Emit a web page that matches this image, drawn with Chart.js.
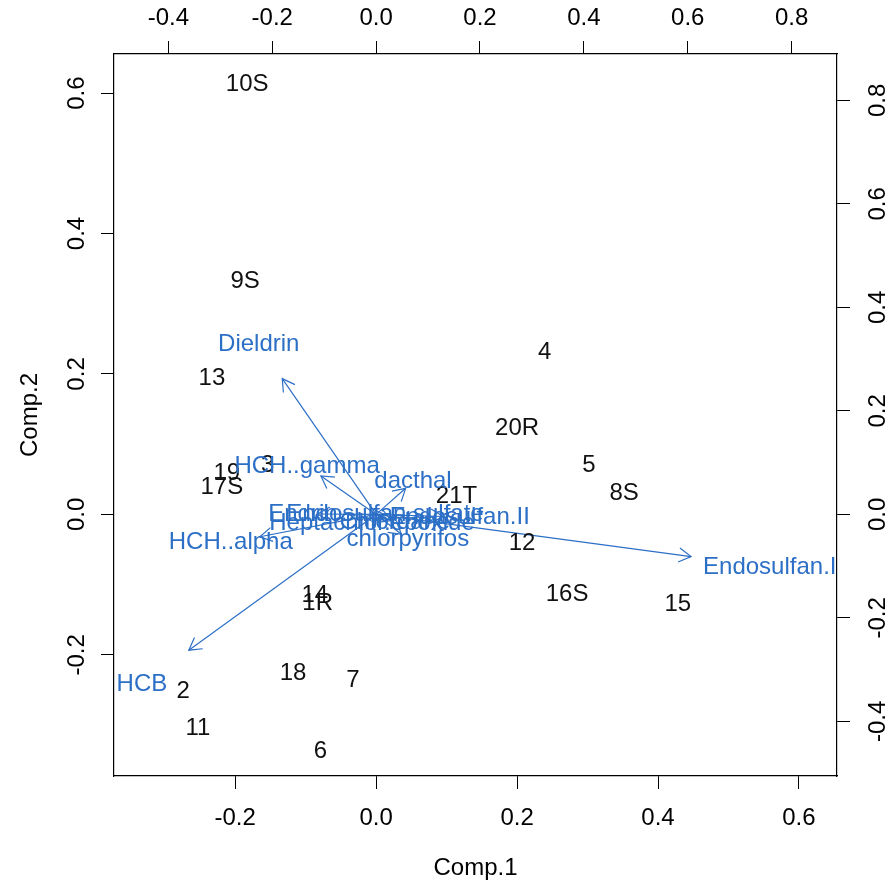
<!DOCTYPE html>
<html>
<head>
<meta charset="utf-8">
<script src="https://cdn.jsdelivr.net/npm/chart.js@4/dist/chart.umd.min.js"></script>
<style>
  html, body { margin: 0; padding: 0; background: #ffffff; }
  #wrap { width: 895px; height: 886px; }
</style>
</head>
<body>
<div id="wrap"><canvas id="biplot" width="895" height="886"></canvas></div>
<script>
// Sample scores on the first two principal components
const sampleIds   = ['10S', '9S', '13', '4', '20R', '3', '19', '17S', '5', '8S', '21T',
                     '12', '16S', '15', '14', '1R', '18', '7', '2', '11', '6'];
const comp1Scores = [-0.183, -0.186, -0.233, 0.239, 0.200, -0.154, -0.212, -0.219, 0.302, 0.352, 0.114,
                     0.207, 0.271, 0.428, -0.087, -0.083, -0.118, -0.033, -0.274, -0.253, -0.079];
const comp2Scores = [0.613, 0.332, 0.193, 0.231, 0.123, 0.070, 0.059, 0.039, 0.070, 0.030, 0.025,
                     -0.041, -0.114, -0.128, -0.115, -0.127, -0.227, -0.236, -0.252, -0.305, -0.337];

// Variable loadings (drawn on the top / right axes)
const variableNames  = ['Dieldrin', 'HCH..gamma', 'dacthal', 'HCH..alpha', 'Endosulfan.I', 'HCB',
                        'chlorpyrifos', 'Endosulfan.II', 'Endrin', 'Endosulfan.sulfate',
                        'Heptachlor.epoxide', 'Chlordane'];
const comp1Loadings  = [-0.226, -0.133, 0.071, -0.280, 0.758, -0.451,
                        0.061, 0.161, -0.141, 0.017, -0.008, 0.036];
const comp2Loadings  = [0.328, 0.093, 0.063, -0.054, -0.102, -0.328,
                        -0.048, -0.005, 0.001, 0.001, -0.017, -0.015];

// Axis ticks
const scoreTicks   = [-0.2, 0.0, 0.2, 0.4, 0.6];
const loadingTicks = [-0.4, -0.2, 0.0, 0.2, 0.4, 0.6, 0.8];

const xLimits = [-0.372, 0.654];
const yLimits = [-0.3725, 0.6556];
const loadingRatio = 1.357;     // scale factor between score and loading axes
const arrowShrink = 0.8;        // arrows stop at 0.8 of the loading, labels sit at the loading

const BLUE = '#2c6fc6';

// Prefer a narrow sans face when it is installed; fall back to the regular one.
function fontInstalled(name) {
  const c = document.createElement('canvas').getContext('2d');
  const probe = 'abcdefghijklmnopqrstuvwxyz0123456789ABCDEFG';
  c.font = '40px monospace';
  const a = c.measureText(probe).width;
  c.font = `40px "${name}", monospace`;
  return Math.abs(c.measureText(probe).width - a) > 0.5;
}
const NARROW = fontInstalled('Liberation Sans Narrow');
const FONT = NARROW
  ? { family: '"Liberation Sans Narrow", "Liberation Sans", Arial, sans-serif', size: 28 }
  : { family: '"Liberation Sans", Arial, Helvetica, sans-serif', size: 24 };
const half = FONT.size * 0.6;
const fontCss = `${FONT.size}px ${FONT.family}`;

const scoreData = sampleIds.map((id, i) => ({ x: comp1Scores[i], y: comp2Scores[i], label: id }));
const loadingData = variableNames.map((n, i) => ({ x: comp1Loadings[i], y: comp2Loadings[i], label: n }));

const arrowSets = variableNames.map((n, i) => ({
  label: n,
  data: [{ x: 0, y: 0 }, { x: comp1Loadings[i] * arrowShrink, y: comp2Loadings[i] * arrowShrink }],
  xAxisID: 'x2', yAxisID: 'y2',
  showLine: true, borderColor: BLUE, borderWidth: 1.2,
  pointRadius: 0, pointHoverRadius: 0, isArrow: true
}));

function fixedTicks(values) {
  return scale => { scale.ticks = values.map(v => ({ value: v })); };
}

function axisCommon(values) {
  return {
    type: 'linear',
    afterBuildTicks: fixedTicks(values),
    grid: { display: true, drawOnChartArea: false, drawTicks: true, tickLength: 13, color: '#000', lineWidth: 1 },
    border: { display: true, color: '#000', width: 1.2 },
  };
}

// Draws the text labels and the arrow heads
const biplotText = {
  id: 'biplotText',
  afterDatasetsDraw(chart) {
    const ctx = chart.ctx;
    ctx.save();
    ctx.font = fontCss;
    ctx.textAlign = 'center';
    ctx.textBaseline = 'middle';

    // sample labels
    const sMeta = chart.getDatasetMeta(0);
    ctx.fillStyle = '#111';
    sMeta.data.forEach((pt, i) => ctx.fillText(scoreData[i].label, pt.x, pt.y));

    // arrow heads
    ctx.strokeStyle = BLUE;
    ctx.lineWidth = 1.2;
    chart.data.datasets.forEach((ds, di) => {
      if (!ds.isArrow) return;
      const m = chart.getDatasetMeta(di);
      const p0 = m.data[0], p1 = m.data[1];
      const ang = Math.atan2(p1.y - p0.y, p1.x - p0.x);
      const len = 14, spread = Math.PI / 6;
      ctx.beginPath();
      ctx.moveTo(p1.x - len * Math.cos(ang - spread), p1.y - len * Math.sin(ang - spread));
      ctx.lineTo(p1.x, p1.y);
      ctx.lineTo(p1.x - len * Math.cos(ang + spread), p1.y - len * Math.sin(ang + spread));
      ctx.stroke();
    });

    // variable labels
    const lMeta = chart.getDatasetMeta(1);
    ctx.fillStyle = BLUE;
    lMeta.data.forEach((pt, i) => ctx.fillText(loadingData[i].label, pt.x, pt.y));
    ctx.restore();
  }
};

new Chart(document.getElementById('biplot'), {
  type: 'scatter',
  data: {
    datasets: [
      { label: 'scores', data: scoreData, xAxisID: 'x', yAxisID: 'y', pointRadius: 0, pointHoverRadius: 0 },
      { label: 'loadings', data: loadingData, xAxisID: 'x2', yAxisID: 'y2', pointRadius: 0, pointHoverRadius: 0 },
      ...arrowSets
    ]
  },
  options: {
    responsive: false,
    animation: false,
    events: [],
    layout: { padding: 0 },
    plugins: { legend: { display: false }, tooltip: { enabled: false } },
    scales: {
      x: Object.assign(axisCommon(scoreTicks), {
        position: 'bottom', min: xLimits[0], max: xLimits[1],
        ticks: { color: '#000', font: FONT, padding: 29.5 - half, callback: v => v.toFixed(1) },
        title: { display: true, text: 'Comp.1', color: '#000', font: FONT, padding: { bottom: 18 - half } },
        afterFit: s => { s.height = 110; }
      }),
      y: Object.assign(axisCommon(scoreTicks), {
        position: 'left', min: yLimits[0], max: yLimits[1],
        ticks: { color: '#000', font: FONT, padding: 3, minRotation: 90, maxRotation: 90, crossAlign: 'center', callback: v => v.toFixed(1) },
        title: { display: true, text: 'Comp.2', color: '#000', font: FONT, padding: { top: 30 - half } },
        afterFit: s => { s.width = 114; }
      }),
      x2: Object.assign(axisCommon(loadingTicks), {
        position: 'top', min: xLimits[0] * loadingRatio, max: xLimits[1] * loadingRatio,
        ticks: { color: '#000', font: FONT, padding: 22.5 - half, callback: v => v.toFixed(1) },
        afterFit: s => { s.height = 54; }
      }),
      y2: Object.assign(axisCommon(loadingTicks), {
        position: 'right', min: yLimits[0] * loadingRatio, max: yLimits[1] * loadingRatio,
        ticks: { color: '#000', font: FONT, padding: 8, minRotation: 90, maxRotation: 90, crossAlign: 'center', callback: v => v.toFixed(1) },
        afterFit: s => { s.width = 58; }
      })
    }
  },
  plugins: [biplotText]
});
</script>
</body>
</html>
